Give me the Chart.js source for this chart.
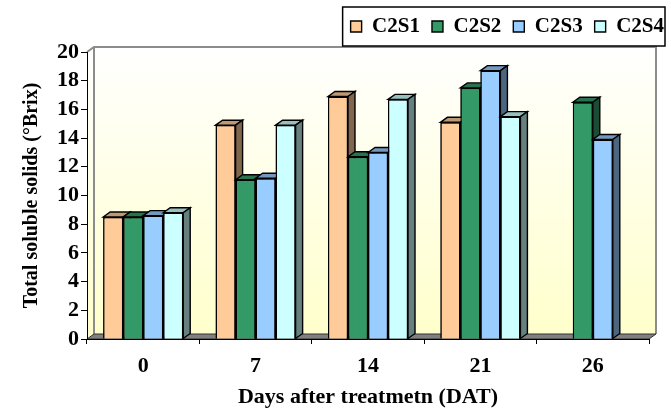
<!DOCTYPE html>
<html>
<head>
<meta charset="utf-8">
<title>Total soluble solids</title>
<script src="https://cdn.jsdelivr.net/npm/chart.js@4.4.1/dist/chart.umd.min.js"></script>
<style>
  html, body { margin: 0; padding: 0; background: #fff; }
  canvas { display: block; }
</style>
</head>
<body>
<canvas id="tss-chart" width="671" height="411"></canvas>
<script>
// ─── Data ───────────────────────────────────────────────────

const DAYS = ['0', '7', '14', '21', '26'];
const SERIES = ['C2S1', 'C2S2', 'C2S3', 'C2S4'];

const C2S1 = [8.5, 14.9, 16.9, 15.1, null];
const C2S2 = [8.5, 11.1, 12.7, 17.5, 16.5];
const C2S3 = [8.6, 11.2, 13.0, 18.7, 13.9];
const C2S4 = [8.8, 14.9, 16.7, 15.5, null];

const SERIES_COLORS = ['#FFCC99', '#339966', '#99CCFF', '#CCFFFF'];

// ─── Style ──────────────────────────────────────────────────

const FONT = "'Liberation Serif', 'Times New Roman', serif";
const DEPTH_X = 7;
const DEPTH_Y = 5;

function shade(hex, f) {
  const n = parseInt(hex.slice(1), 16);
  const r = Math.round(((n >> 16) & 255) * f);
  const g = Math.round(((n >> 8) & 255) * f);
  const b = Math.round((n & 255) * f);
  return `rgb(${r},${g},${b})`;
}

function poly(ctx, pts, fill, stroke, lw) {
  ctx.beginPath();
  ctx.moveTo(pts[0][0], pts[0][1]);
  for (let i = 1; i < pts.length; i++) ctx.lineTo(pts[i][0], pts[i][1]);
  ctx.closePath();
  if (fill) { ctx.fillStyle = fill; ctx.fill(); }
  if (stroke) { ctx.strokeStyle = stroke; ctx.lineWidth = lw || 1; ctx.stroke(); }
}

// ─── Plugins ────────────────────────────────────────────────

// back wall, side wall and floor of the 3-D plot box
const wallsPlugin = {
  id: 'walls',
  beforeDraw(chart) {
    const { ctx, chartArea: a } = chart;
    const L = a.left, R = a.right, T = a.top, B = a.bottom;
    const grad = ctx.createLinearGradient(0, T - DEPTH_Y, 0, B - DEPTH_Y);
    grad.addColorStop(0, '#FFFFFF');
    grad.addColorStop(1, '#FFFFCC');
    ctx.save();
    poly(ctx, [[L + DEPTH_X, T - DEPTH_Y], [R + DEPTH_X, T - DEPTH_Y],
               [R + DEPTH_X, B - DEPTH_Y], [L + DEPTH_X, B - DEPTH_Y]], grad);
    poly(ctx, [[L, B], [L, T], [L + DEPTH_X, T - DEPTH_Y], [L + DEPTH_X, B - DEPTH_Y]], grad);

    ctx.strokeStyle = '#8C8C8C';
    ctx.lineWidth = 2;
    ctx.beginPath();
    ctx.moveTo(L, T);
    ctx.lineTo(L + DEPTH_X, T - DEPTH_Y);
    ctx.lineTo(R + DEPTH_X, T - DEPTH_Y);
    ctx.lineTo(R + DEPTH_X, B - DEPTH_Y);
    ctx.moveTo(L + DEPTH_X, T - DEPTH_Y);
    ctx.lineTo(L + DEPTH_X, B - DEPTH_Y);
    ctx.stroke();

    poly(ctx, [[L, B], [R, B], [R + DEPTH_X, B - DEPTH_Y], [L + DEPTH_X, B - DEPTH_Y]],
         '#808080', '#333', 1);
    ctx.restore();
  },
};

// top and side faces of each bar, drawn series by series so the
// next bar's front face hides the previous bar's side
const bars3dPlugin = {
  id: 'bars3d',
  afterDatasetsDraw(chart) {
    const ctx = chart.ctx;
    ctx.save();
    chart.data.datasets.forEach((ds, i) => {
      const meta = chart.getDatasetMeta(i);
      const color = SERIES_COLORS[i];
      meta.data.forEach((bar, j) => {
        if (ds.data[j] == null) return;
        const { x, y, base, width } = bar.getProps(['x', 'y', 'base', 'width'], true);
        const l = x - width / 2;
        const r = x + width / 2;
        poly(ctx, [[l, y], [l + DEPTH_X, y - DEPTH_Y], [r + DEPTH_X, y - DEPTH_Y], [r, y]],
             shade(color, 0.75), '#000', 1.4);
        poly(ctx, [[r, y], [r + DEPTH_X, y - DEPTH_Y], [r + DEPTH_X, base - DEPTH_Y], [r, base]],
             shade(color, 0.5), '#000', 1.4);
        bar.draw(ctx);
      });
    });
    ctx.restore();
  },
};

// legend sits in the top right corner, framed
const legendBoxPlugin = {
  id: 'legendBox',
  afterLayout(chart) {
    const lg = chart.legend;
    lg.left += 27; lg.right += 27;
    lg.top -= 5; lg.bottom -= 5;
  },
  afterDraw(chart) {
    const hb = chart.legend.legendHitBoxes;
    if (!hb || !hb.length) return;
    const first = hb[0];
    const last = hb[hb.length - 1];
    const x0 = first.left - 8;
    const x1 = last.left + last.width + 1;
    const ctx = chart.ctx;
    ctx.save();
    ctx.strokeStyle = '#000';
    ctx.lineWidth = 1.5;
    ctx.strokeRect(x0, first.top - 9, x1 - x0, first.height + 18);
    ctx.restore();
  },
};

// ─── Chart ──────────────────────────────────────────────────

const seriesData = [C2S1, C2S2, C2S3, C2S4];

const datasets = SERIES.map((name, i) => ({
  label: name,
  data: seriesData[i],
  backgroundColor: SERIES_COLORS[i],
  borderColor: '#000',
  borderWidth: 1.4,
  barPercentage: 1,
  categoryPercentage: 0.712,
}));

const tickFont = { family: FONT, size: 22, weight: 'bold' };

new Chart(document.getElementById('tss-chart'), {
  type: 'bar',
  data: { labels: DAYS, datasets },
  plugins: [wallsPlugin, bars3dPlugin, legendBoxPlugin],
  options: {
    responsive: false,
    animation: false,
    layout: { padding: { top: 9, right: 22, bottom: 0, left: 4 } },
    plugins: {
      tooltip: { enabled: false },
      legend: {
        position: 'top',
        align: 'end',
        labels: {
          boxWidth: 11,
          boxHeight: 11,
          padding: 12,
          color: '#000',
          font: { family: FONT, size: 21, weight: 'bold' },
        },
      },
    },
    scales: {
      x: {
        grid: { offset: true, drawOnChartArea: false, tickLength: 5, color: '#000' },
        border: { color: '#000', width: 1 },
        ticks: { color: '#000', font: tickFont, padding: 9 },
        title: {
          display: true,
          text: 'Days after treatmetn (DAT)',
          color: '#000',
          font: { family: FONT, size: 22, weight: 'bold' },
          padding: { top: 0, bottom: 0 },
        },
        afterFit(scale) { scale.height = 72; },
      },
      y: {
        min: 0,
        max: 20,
        grid: { drawOnChartArea: false, tickLength: 6, color: '#000' },
        border: { color: '#000', width: 1 },
        ticks: { stepSize: 2, autoSkip: false, color: '#000', font: tickFont, padding: 2 },
        title: {
          display: true,
          text: 'Total soluble solids (°Brix)',
          color: '#000',
          font: { family: FONT, size: 20, weight: 'bold' },
          padding: { top: 16, bottom: 0 },
        },
        afterFit(scale) { scale.width = 83; },
      },
    },
  },
});
</script>
</body>
</html>
